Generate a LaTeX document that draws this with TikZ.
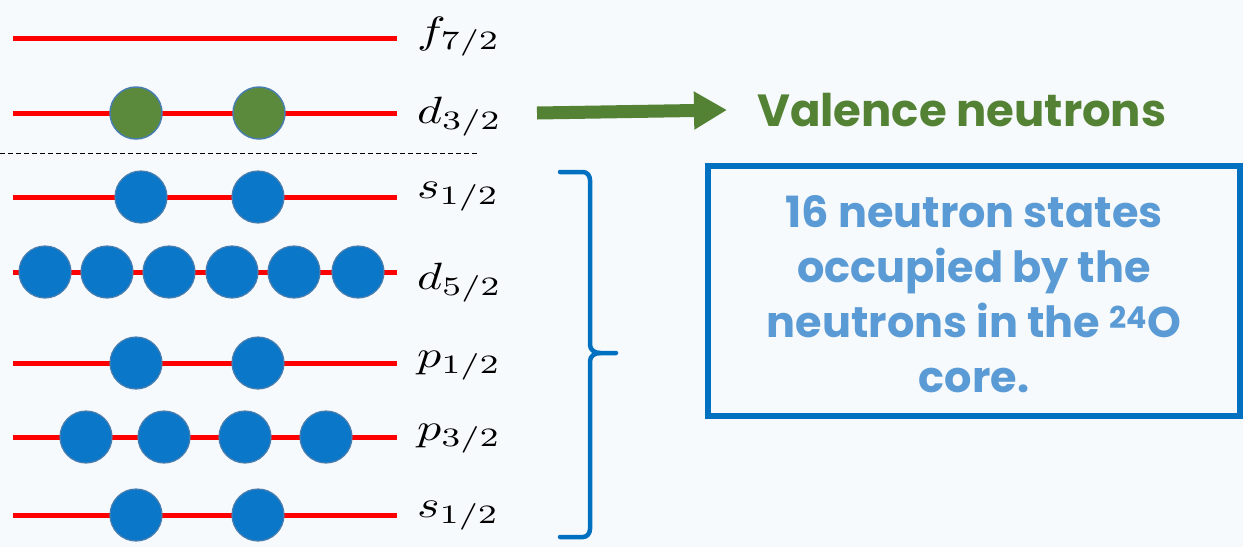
\documentclass[tikz,border=0pt]{standalone}
\usepackage{fontspec}
\newfontfamily\gothic{Poppins}
\usetikzlibrary{arrows.meta}
\definecolor{lvlred}{HTML}{FF0000}
\definecolor{ballblue}{HTML}{0B77C9}
\definecolor{balledge}{HTML}{4A7EAE}
\definecolor{ballgreen}{HTML}{5B8A3C}
\definecolor{valgreen}{HTML}{548235}
\definecolor{boxblue}{HTML}{0070C0}
\definecolor{txtblue}{HTML}{5B9BD5}
\definecolor{bg}{HTML}{F7FAFC}
\newcommand{\lvl}[1]{\scalebox{4.8}[3.8]{$#1$}}
\begin{document}
\begin{tikzpicture}[x=1pt,y=-1pt,
  level/.style={draw=lvlred,line width=5pt},
  core/.style={circle,fill=ballblue,draw=balledge,line width=1.2pt,minimum size=52pt,inner sep=0pt},
  valence/.style={circle,fill=ballgreen,draw=balledge,line width=1.5pt,minimum size=52pt,inner sep=0pt},
  lbl/.style={anchor=base west,inner sep=0pt},
]
\fill[bg] (0,0) rectangle (1243,547);
\useasboundingbox (0,0) rectangle (1243,547);

% level end points
\foreach \n/\y in {f/38,d3/113,s1/197,d5/272,p1/363,p3/437,s0/515}{
  \coordinate (\n a) at (13,\y);
  \coordinate (\n b) at (397,\y);
  \draw[level] (\n a) -- (\n b);
}

% labels
\node[lbl] (lf)  at (417,43)  {\lvl{f_{7/2}}};
\node[lbl] (ld3) at (417,123) {\lvl{d_{3/2}}};
\node[lbl] (ls1) at (417,198) {\lvl{s_{1/2}}};
\node[lbl] (ld5) at (417,289) {\lvl{d_{5/2}}};
\node[lbl] (lp1) at (417,367) {\lvl{p_{1/2}}};
\node[lbl] (lp3) at (417,440) {\lvl{p_{3/2}}};
\node[lbl] (ls0) at (417,517) {\lvl{s_{1/2}}};

% valence neutrons
\node[valence] (g1) at (136,113) {};
\node[valence] (g2) at (259,113) {};

% dashed separator
\coordinate (da) at (0,153);
\coordinate (db) at (478,153);
\draw[black,line width=0.8pt,dash pattern=on 5pt off 3pt] (da) -- (db);

% core neutrons
\node[core] (s1a) at (141,197) {};
\node[core] (s1b) at (258,197) {};
\foreach \i/\x in {1/45,2/107,3/169,4/232,5/294,6/358}{
  \node[core] (d5\i) at (\x,272) {};
}
\node[core] (p1a) at (136,363) {};
\node[core] (p1b) at (258,363) {};
\foreach \i/\x in {1/86,2/164,3/245,4/326}{
  \node[core] (p3\i) at (\x,437) {};
}
\node[core] (s0a) at (136,515) {};
\node[core] (s0b) at (258,515) {};

% arrow and valence label
\node[anchor=west,inner sep=0pt,text=valgreen,font=\gothic\bfseries\fontsize{45}{48}\selectfont] (val) at (757,110) {Valence neutrons};
\coordinate (arrS) at (537,113);
\draw[valgreen,line width=13pt,-{Triangle[length=33pt,width=36pt]}] (arrS) -- (val.west -| 727,0);

% brace
\draw[boxblue,line width=4.5pt,line cap=round]
  (560,172) -- (583,172) to[out=0,in=90] (590,180) -- (590,345)
  to[out=-90,in=180] (600,353) -- (616,353);
\draw[boxblue,line width=4.5pt,line cap=round]
  (560,537) -- (583,537) to[out=0,in=-90] (590,529) -- (590,361)
  to[out=90,in=180] (600,353);

% box
\node[draw=boxblue,line width=6pt,minimum width=532pt,minimum height=250pt,inner sep=0pt] (box) at (974,291) {};
\node[align=center,text=txtblue,font=\gothic\bfseries\fontsize{43}{55}\selectfont,inner sep=0pt] (boxtxt) at (974,294)
  {16 neutron states\\occupied by the\\neutrons in the \textsuperscript{24}O\\core.};
\end{tikzpicture}
\end{document}
